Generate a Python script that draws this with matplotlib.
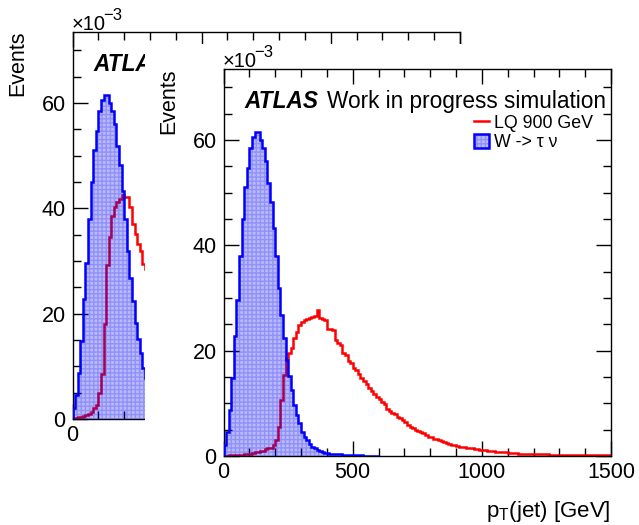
import numpy as np
import matplotlib
matplotlib.use("Agg")
import matplotlib.pyplot as plt
from matplotlib.patches import Rectangle
from matplotlib.lines import Line2D
from matplotlib.ticker import MultipleLocator

plt.rcParams['font.family'] = ['Liberation Sans', 'DejaVu Sans']
plt.rcParams['mathtext.fontset'] = 'custom'
plt.rcParams['mathtext.rm'] = 'Liberation Sans'
plt.rcParams['mathtext.it'] = 'Liberation Sans:italic'
plt.rcParams['hatch.linewidth'] = 1.0

# ---------------- data (Events, in units of 1e-3, 10 GeV bins) ----------------
bin_width = 10.0
w_taunu = [2.1, 4.5, 8.7, 14.9, 22.7, 29.7, 38.0, 45.0, 51.0, 54.7,
           58.5, 60.5, 61.6, 61.5, 60.0, 58.5, 56.0, 51.8, 48.3, 43.3,
           38.0, 31.9, 26.8, 22.5, 18.3, 15.1, 12.5, 9.7, 7.8, 6.3,
           4.6, 3.7, 3.0, 2.3, 1.8, 1.6, 1.2, 1.0, 0.7, 0.6,
           0.5, 0.45, 0.4, 0.35, 0.3, 0.3, 0.25, 0.2, 0.2, 0.15,
           0.15, 0.12, 0.1, 0.1, 0.08, 0.08, 0.06, 0.05, 0.05, 0.05]
lq_900 = [0.05, 0.05, 0.1, 0.1, 0.15, 0.15, 0.2, 0.25, 0.3, 0.35,
          0.4, 0.5, 0.8, 0.8, 0.9, 1.0, 1.4, 1.5, 1.6, 2.1,
          3.0, 5.6, 10.6, 15.3, 18.6, 19.5, 20.5, 22.4, 23.5, 24.8,
          25.5, 25.8, 26.0, 26.2, 26.4, 26.5, 27.8, 26.2, 26.0, 25.9,
          24.1, 24.1, 23.9, 22.0, 21.4, 21.0, 19.6, 19.2, 18.1, 17.6,
          16.8, 16.3, 15.5, 14.8, 14.2, 13.6, 13.0, 12.3, 11.8, 11.2,
          10.8, 10.2, 9.8, 9.0, 8.6, 8.2, 7.9, 7.4, 7.2, 6.9,
          6.4, 5.9, 5.6, 5.3, 4.9, 4.8, 4.6, 4.3, 3.9, 3.7,
          3.6, 3.3, 3.2, 3.0, 2.8, 2.6, 2.4, 2.3, 2.1, 2.0,
          1.9, 1.8, 1.8, 1.7, 1.6, 1.5, 1.5, 1.4, 1.3, 1.2,
          1.2, 1.1, 1.0, 0.9, 0.9, 0.8, 0.8, 0.8, 0.7, 0.7,
          0.6, 0.55, 0.5, 0.5, 0.45, 0.45, 0.4, 0.4, 0.4, 0.35,
          0.35, 0.35, 0.3, 0.3, 0.3, 0.3, 0.25, 0.25, 0.25, 0.25,
          0.2, 0.2, 0.2, 0.2, 0.2, 0.2, 0.15, 0.15, 0.15, 0.15,
          0.15, 0.15, 0.1, 0.1, 0.1, 0.1, 0.1, 0.1, 0.1, 0.1]
# LQ curve of the canvas behind (only its low-pT part is visible)
lq_back = [0.1, 0.2, 0.3, 0.4, 0.5, 0.8, 1.0, 1.3, 2.0, 2.6,
           4.9, 8.6, 18.1, 29.2, 34.6, 38.5, 40.3, 41.3, 41.8, 42.5,
           42.2, 42.2, 40.3, 37.1, 35.2, 33.3, 32.0, 29.5, 28.5, 27.5]
legend_labels = ['LQ 900 GeV', 'W -> \u03c4 \u03bd']
x_ticks = [0, 500, 1000, 1500]
y_ticks = [0, 20, 40, 60]

W, H = 639, 525
fig = plt.figure(figsize=(W / 100, H / 100), dpi=100)
fig.patch.set_facecolor('white')

def fx(x):
    return x / W

def fy(y):
    return 1 - y / H

BLUE_FILL = (0.03, 0.03, 0.92)
FILL_ALPHA = 0.28
HATCH_COLOR = (0.0, 0.0, 1.0, 0.22)
LW = 1.8

# frame of the front panel in pixels
FL, FT, FR, FB = 223.5, 69, 611, 456


def panel(dx, dy, lq, zorder, full=True):
    ax = fig.add_axes([fx(FL + dx), fy(FB + dy), (FR - FL) / W, (FB - FT) / H])
    ax.set_zorder(zorder)
    ax.set_xlim(0, 1500)
    ax.set_ylim(0, 73.5)
    edges_lq = np.arange(len(lq) + 1) * bin_width
    edges_w = np.arange(len(w_taunu) + 1) * bin_width
    ax.stairs(lq, edges_lq, color='#ff0000', lw=LW, baseline=None, zorder=2)
    ax.stairs(w_taunu, edges_w, fill=True, color=BLUE_FILL, alpha=FILL_ALPHA, lw=0, zorder=3)
    ax.stairs(w_taunu, edges_w, fill=True, facecolor='none', edgecolor=HATCH_COLOR,
              hatch='++++', lw=0, zorder=3.5)
    ax.stairs(w_taunu, edges_w, color='#0000ff', lw=LW, zorder=4)
    ax.xaxis.set_minor_locator(MultipleLocator(100))
    ax.yaxis.set_minor_locator(MultipleLocator(5))
    ax.set_xticks(x_ticks)
    ax.set_xticklabels([str(v) for v in x_ticks])
    ax.set_yticks(y_ticks)
    ax.set_yticklabels([str(v) for v in y_ticks])
    ax.tick_params(which='both', direction='in', top=True, right=True, width=1.0,
                   labelsize=15.5, colors='black')
    ax.tick_params(which='major', length=11)
    ax.tick_params(which='minor', length=5.5)
    ax.tick_params(axis='x', pad=4)
    ax.tick_params(axis='y', pad=5)
    for s in ax.spines.values():
        s.set_linewidth(1.0)
    T = fig.transFigure
    kw = dict(transform=T, clip_on=False, color='black')
    # x10^-3
    ax.text(fx(FL - 1 + dx), fy(67 + dy), '\u00d710', fontsize=14.5, ha='left', va='baseline', **kw)
    ax.text(fx(FL + 31 + dx), fy(57 + dy), '\u22123', fontsize=12, ha='left', va='baseline', **kw)
    # y title
    ax.text(fx(168.5 + dx), fy(FT - 1 + dy), 'Events', rotation=90, fontsize=15.5,
            ha='center', va='top', **kw)
    # ATLAS label
    ax.text(fx(244 + dx), fy(108 + dy), 'ATLAS', fontsize=16.3, fontweight='bold',
            fontstyle='italic', ha='left', va='baseline', **kw)
    if full:
        ax.text(fx(327 + dx), fy(108 + dy), 'Work in progress simulation', fontsize=16.3,
                ha='left', va='baseline', **kw)
        # legend
        ax.add_line(Line2D([fx(474 + dx), fx(489 + dx)], [fy(121 + dy), fy(121 + dy)],
                           color='#ff0000', lw=LW, transform=T, clip_on=False))
        ax.add_patch(Rectangle((fx(474 + dx), fy(148 + dy)), 15 / W, 14 / H,
                               facecolor=BLUE_FILL, alpha=FILL_ALPHA, lw=0,
                               transform=T, clip_on=False))
        ax.add_patch(Rectangle((fx(474 + dx), fy(148 + dy)), 15 / W, 14 / H,
                               facecolor='none', edgecolor=HATCH_COLOR, hatch='++++', lw=0,
                               transform=T, clip_on=False))
        ax.add_patch(Rectangle((fx(474 + dx), fy(148 + dy)), 15 / W, 14 / H,
                               facecolor='none', edgecolor='#0000ff', lw=LW,
                               transform=T, clip_on=False))
        ax.text(fx(494 + dx), fy(128 + dy), legend_labels[0], fontsize=12.8,
                ha='left', va='baseline', **kw)
        ax.text(fx(494 + dx), fy(147 + dy), legend_labels[1], fontsize=12.8,
                ha='left', va='baseline', **kw)
        ax.text(fx(FR + dx), fy(517 + dy), r'p$_{\mathrm{T}}$(jet) [GeV]', fontsize=16,
                ha='right', va='baseline', **kw)
    return ax


# canvas behind (offset up-left), partially hidden
back = panel(-151, -37, lq_back, zorder=0, full=False)
# white canvas of the front plot covering the back one
fig.patches.append(Rectangle((fx(145), 0), 1 - fx(145), fy(44), transform=fig.transFigure,
                             facecolor='white', edgecolor='none', zorder=1))
front = panel(0, 0, lq_900, zorder=2, full=True)

fig.savefig('out.png', dpi=100, facecolor='white')
